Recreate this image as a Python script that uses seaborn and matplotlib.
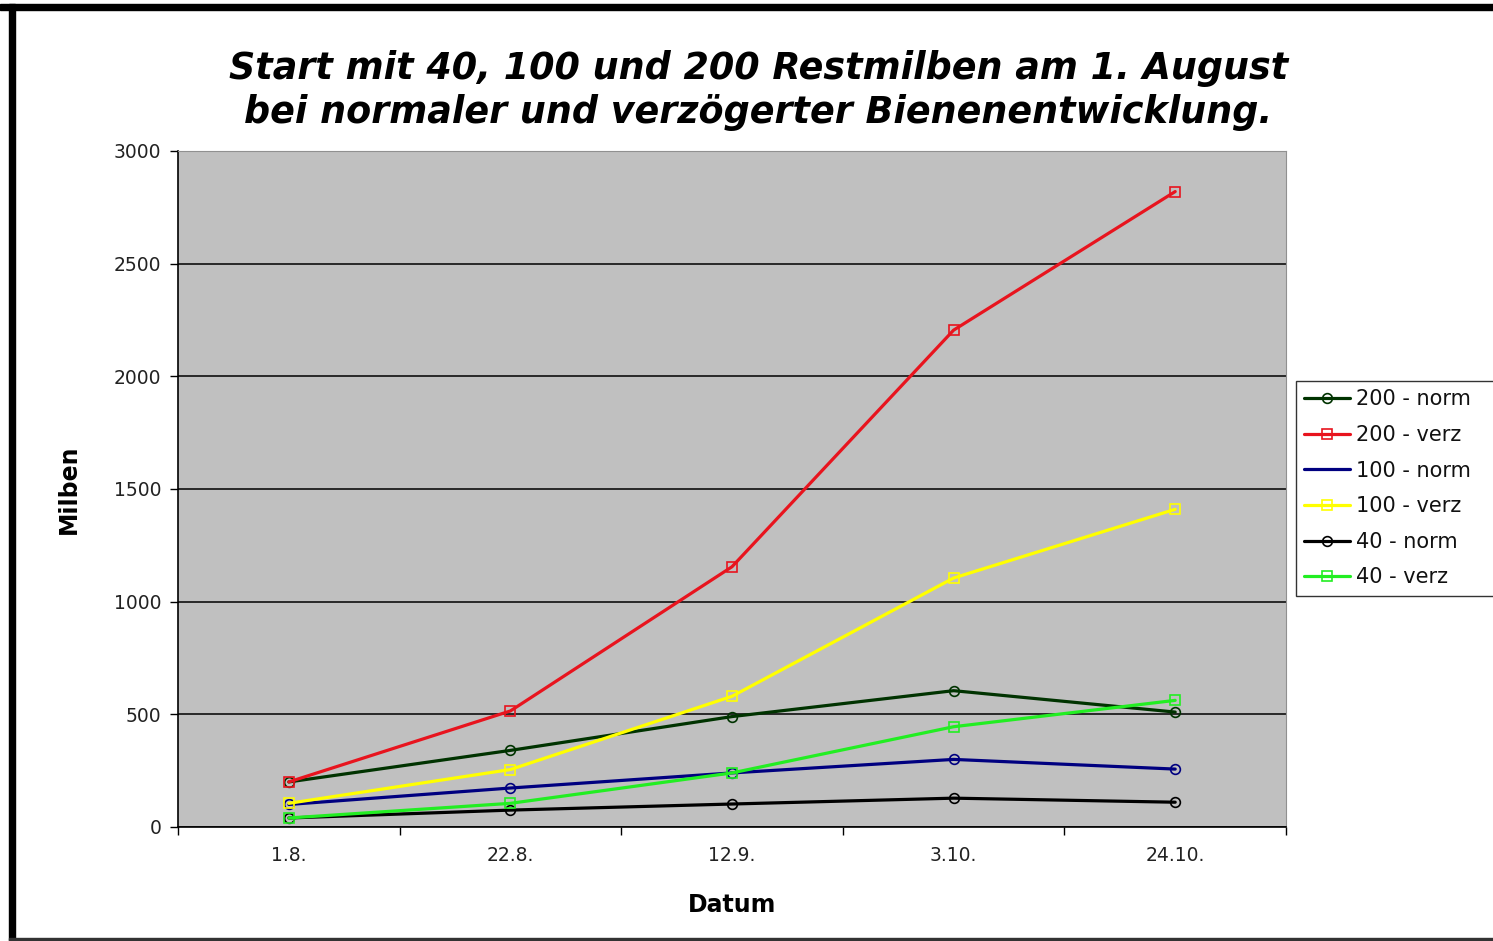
import numpy as np
import pandas as pd
import matplotlib
matplotlib.use("Agg")
import matplotlib.pyplot as plt
import seaborn as sns
from matplotlib.patches import Rectangle

# -----------------------------------
# Data
# -----------------------------------
dates = ["1.8.", "22.8.", "12.9.", "3.10.", "24.10."]

series_names = ["200 - norm", "200 - verz", "100 - norm", "100 - verz", "40 - norm", "40 - verz"]

val_200_norm = [200, 340, 490, 605, 510]
val_200_verz = [200, 515, 1155, 2205, 2820]
val_100_norm = [100, 173, 240, 300, 257]
val_100_verz = [105, 255, 580, 1105, 1410]
val_40_norm = [40, 75, 102, 128, 110]
val_40_verz = [40, 105, 240, 445, 562]

colors = ["#003300", "#E8141E", "#000080", "#FFFF00", "#000000", "#22EE22"]
markers = ["o", "s", "o", "s", "o", "s"]
legend_markers = ["o", "s", None, "s", "o", "s"]

all_values = [val_200_norm, val_200_verz, val_100_norm, val_100_verz, val_40_norm, val_40_verz]

rows = []
for name, vals in zip(series_names, all_values):
    for i, v in enumerate(vals):
        rows.append({"Serie": name, "pos": i, "Milben": v})
df = pd.DataFrame(rows)

# -----------------------------------
# Plot
# -----------------------------------
sns.set_style("white")
plt.rcParams["font.family"] = ["DejaVu Sans"]
plt.rcParams["text.color"] = "black"

fig = plt.figure(figsize=(14.93, 9.41), dpi=100)
ax = fig.add_axes([178 / 1493, 1 - 827 / 941, (1286 - 178) / 1493, (827 - 151) / 941])
ax.set_facecolor("#C0C0C0")

handles = []
for name, color, mk, lmk in zip(series_names, colors, markers, legend_markers):
    sub = df[df["Serie"] == name]
    sns.lineplot(data=sub, x="pos", y="Milben", ax=ax, color=color, linewidth=2.3,
                 marker=mk, markersize=7, markerfacecolor="none",
                 markeredgecolor=color, markeredgewidth=1.2, legend=False)
    h, = ax.plot([], [], color=color, linewidth=2.3, marker=lmk, markersize=7,
                 markerfacecolor="none", markeredgecolor=color, markeredgewidth=1.2)
    handles.append(h)

ax.set_xlim(-0.5, 4.5)
ax.set_ylim(0, 3000)
ax.set_yticks(range(0, 3001, 500))
ax.set_xticks(range(len(dates)))
ax.set_xticklabels(dates)
ax.set_xticks(np.arange(-0.5, 4.6, 1), minor=True)
ax.tick_params(axis="x", which="major", length=0, pad=14, labelsize=13.5, colors="#222222")
ax.tick_params(axis="x", which="minor", length=6, width=1, color="black", direction="out")
ax.tick_params(axis="y", length=6, width=1, color="black", direction="out", pad=6,
               labelsize=13.5, colors="#222222")
ax.tick_params(axis="both", bottom=True, left=True, which="both")

ax.grid(axis="y", color="black", linewidth=1.1)
ax.grid(axis="x", visible=False)
ax.set_axisbelow(True)
for side in ["top", "right"]:
    ax.spines[side].set_color("#909090")
    ax.spines[side].set_linewidth(0.8)
for side in ["left", "bottom"]:
    ax.spines[side].set_color("black")
    ax.spines[side].set_linewidth(1.2)

ax.set_xlabel("Datum", fontsize=17, fontweight="bold", labelpad=20, color="black")
ax.set_ylabel("Milben", fontsize=17, fontweight="bold", labelpad=24, color="black")

fig.text(0.508, 0.904, "Start mit 40, 100 und 200 Restmilben am 1. August\n"
         "bei normaler und verzögerter Bienenentwicklung.",
         ha="center", va="center", fontsize=26.3, fontweight="bold", style="italic",
         linespacing=1.22, color="black")

leg = fig.legend(handles, series_names, loc="upper left",
                 bbox_to_anchor=(1296 / 1493, 1 - 594 / 941, 205 / 1493, 213 / 941),
                 mode="expand", fontsize=15, frameon=True, fancybox=False,
                 handlelength=2.2, handletextpad=0.3, borderpad=0.4,
                 labelspacing=0.75, borderaxespad=0)
leg.get_frame().set_edgecolor("black")
leg.get_frame().set_linewidth(1)
for t in leg.get_texts():
    t.set_color("#111111")

# black frame around the picture
fig.patches.append(Rectangle((0, 941 - 10), 1493, 6, transform=None, color="black"))
fig.patches.append(Rectangle((9, 0), 6, 941 - 4, transform=None, color="black"))
fig.patches.append(Rectangle((9, 1), 1493, 2, transform=None, color="#333333"))

fig.savefig("out.png", dpi=100)
